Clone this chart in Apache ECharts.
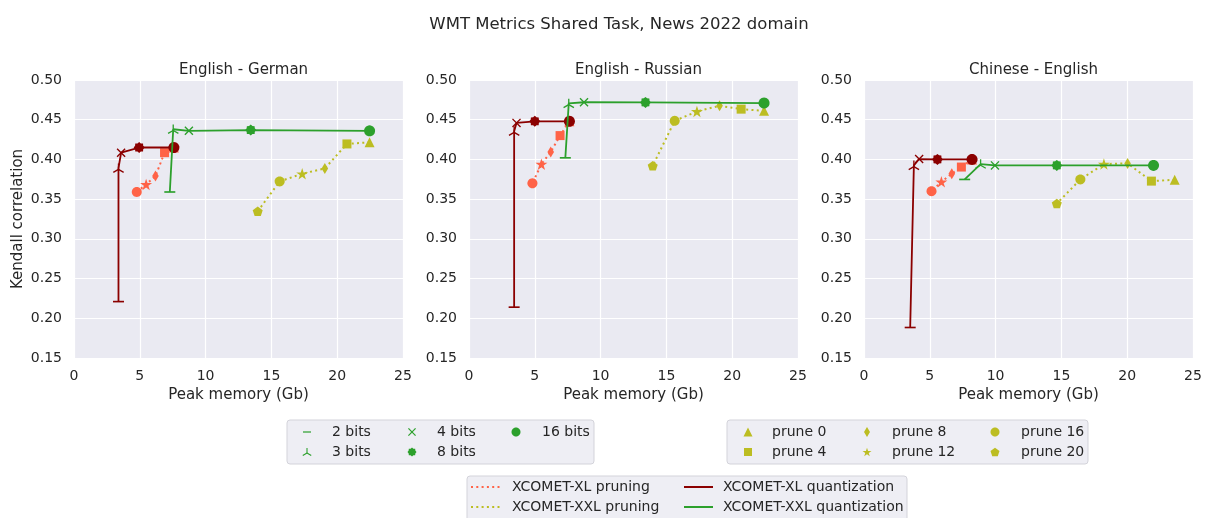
<!DOCTYPE html>
<html><head><meta charset="utf-8">
<script src="https://cdn.jsdelivr.net/npm/echarts@6/dist/echarts.min.js"></script>
<style>html,body{margin:0;padding:0;background:#fff}#c{width:1205px;height:518px}</style>
</head><body><div id="c"></div><script>
// ---------------- DATA ----------------
const mainTitle = 'WMT Metrics Shared Task, News 2022 domain';
const subTitles = ['English - German', 'English - Russian', 'Chinese - English'];
const xAxisName = 'Peak memory (Gb)';
const yAxisName = 'Kendall correlation';
const bitsLabels = ['2 bits', '3 bits', '4 bits', '8 bits', '16 bits'];
const pruneLabels = ['prune 0', 'prune 4', 'prune 8', 'prune 12', 'prune 16', 'prune 20'];
const seriesLabels = ['XCOMET-XL pruning', 'XCOMET-XXL pruning', 'XCOMET-XL quantization', 'XCOMET-XXL quantization'];

// English - German
const deXLQuantMem = [3.38, 3.38, 3.58, 4.95, 7.59];
const deXLQuantCorr = [0.221, 0.389, 0.4085, 0.415, 0.415];
const deXXLQuantMem = [7.28, 7.54, 8.73, 13.43, 22.46];
const deXXLQuantCorr = [0.359, 0.438, 0.436, 0.437, 0.436];
const deXLPruneMem = [7.59, 6.88, 6.19, 5.48, 4.77];
const deXLPruneCorr = [0.415, 0.4085, 0.379, 0.3685, 0.359];
const deXXLPruneMem = [22.46, 20.74, 19.06, 17.34, 15.63, 13.96];
const deXXLPruneCorr = [0.4216, 0.4195, 0.3887, 0.382, 0.3723, 0.3347];

// English - Russian
const ruXLQuantMem = [3.43, 3.43, 3.61, 5.0, 7.63];
const ruXLQuantCorr = [0.214, 0.4355, 0.446, 0.448, 0.448];
const ruXXLQuantMem = [7.32, 7.58, 8.74, 13.41, 22.42];
const ruXXLQuantCorr = [0.402, 0.4705, 0.472, 0.4718, 0.471];
const ruXLPruneMem = [7.63, 6.92, 6.21, 5.5, 4.82];
const ruXLPruneCorr = [0.448, 0.430, 0.4094, 0.394, 0.370];
const ruXXLPruneMem = [22.42, 20.68, 19.04, 17.32, 15.63, 13.96];
const ruXXLPruneCorr = [0.4612, 0.4633, 0.4675, 0.4604, 0.4486, 0.392];

// Chinese - English
const zhXLQuantMem = [3.51, 3.79, 4.19, 5.58, 8.21];
const zhXLQuantCorr = [0.1884, 0.3925, 0.4005, 0.400, 0.400];
const zhXXLQuantMem = [7.65, 8.86, 9.95, 14.65, 22.0];
const zhXXLQuantCorr = [0.3748, 0.3942, 0.3925, 0.3925, 0.3925];
const zhXLPruneMem = [8.21, 7.4, 6.67, 5.88, 5.13];
const zhXLPruneCorr = [0.400, 0.3904, 0.382, 0.3718, 0.360];
const zhXXLPruneMem = [23.61, 21.84, 20.03, 18.23, 16.44, 14.65];
const zhXXLPruneCorr = [0.3744, 0.3727, 0.395, 0.3942, 0.3748, 0.3444];

const xTicks = [0, 5, 10, 15, 20, 25];
const yTicks = [0.15, 0.20, 0.25, 0.30, 0.35, 0.40, 0.45, 0.50];

// ---------------- STYLE ----------------
const C_XL_PRUNE = '#ff6347', C_XXL_PRUNE = '#bcbd22', C_XL_Q = '#8b0000', C_XXL_Q = '#2ca02c';
const TXT = '#262626', FONT = 'DejaVu Sans';
const gridLefts = [74, 469, 864], gridTop = 80, gridW = 329, gridH = 278;

function regPoly(n, r, rot) { const p = []; for (let i = 0; i < n; i++) { const a = rot + 2 * Math.PI * i / n; p.push([r * Math.sin(a), -r * Math.cos(a)]); } return p; }
function starPoly(n, ro, ri) { const p = []; for (let i = 0; i < 2 * n; i++) { const a = Math.PI * i / n; const r = i % 2 ? ri : ro; p.push([r * Math.sin(a), -r * Math.cos(a)]); } return p; }
function arm(x0, y0, x1, y1, hw) { const dx = x1 - x0, dy = y1 - y0, L = Math.hypot(dx, dy); const nx = -dy / L * hw, ny = dx / L * hw; return [[x0 + nx, y0 + ny], [x1 + nx, y1 + ny], [x1 - nx, y1 - ny], [x0 - nx, y0 - ny]]; }
const RAW = {
  circle: [regPoly(28, 1, 0)],
  triangle: [[[0, -1], [1, 1], [-1, 1]]],
  square: [[[-1, -1], [1, -1], [1, 1], [-1, 1]]],
  thinDiamond: [[[0, -1], [0.6, 0], [0, 1], [-0.6, 0]]],
  star: [starPoly(5, 1, 0.382)],
  pentagon: [regPoly(5, 1, 0)],
  hline: [[[-1, -0.15], [1, -0.15], [1, 0.15], [-1, 0.15]]],
  tri: [arm(0, 0.05, 0, -1, 0.11), arm(0, 0, -0.866, 0.5, 0.11), arm(0, 0, 0.866, 0.5, 0.11)],
  cross: [arm(-1, -1, 1, 1, 0.17), arm(-1, 1, 1, -1, 0.17)],
  gear: [starPoly(8, 1, 0.8)]
};
const SHAPES = {}, PATHS = {};
Object.keys(RAW).forEach(k => {
  const all = RAW[k].flat();
  const xs = all.map(p => p[0]), ys = all.map(p => p[1]);
  const x0 = Math.min(...xs), x1 = Math.max(...xs), y0 = Math.min(...ys), y1 = Math.max(...ys);
  const cx = (x0 + x1) / 2, cy = (y0 + y1) / 2, s = 2 / Math.max(x1 - x0, y1 - y0);
  SHAPES[k] = RAW[k].map(poly => poly.map(p => [(p[0] - cx) * s, (p[1] - cy) * s]));
  PATHS[k] = 'path://' + SHAPES[k].map(poly => 'M' + poly.map(p => ((p[0] + 1) * 50).toFixed(2) + ' ' + ((p[1] + 1) * 50).toFixed(2)).join(' L') + ' Z').join(' ');
});
const quantSyms = ['hline', 'tri', 'cross', 'gear', 'circle'];
const quantSizes = [11, 11, 9, 11, 11];
const pruneSyms = ['triangle', 'square', 'thinDiamond', 'star', 'circle', 'pentagon'];
const pruneSizes = [10, 9, 11, 12, 10, 10];

function mkSeries(gi, name, mem, corr, syms, sizes, color, dotted, z) {
  return {
    type: 'line', name, xAxisIndex: gi, yAxisIndex: gi, z, silent: true, animation: false,
    showAllSymbol: true, symbolKeepAspect: true,
    data: mem.map((m, i) => ({ value: [m, corr[i]], symbol: PATHS[syms[i]], symbolSize: sizes[i] })),
    lineStyle: { color, width: dotted ? 2 : 1.8, type: dotted ? [2, 3.3] : 'solid', cap: 'butt' },
    itemStyle: { color, borderWidth: 0 }
  };
}
const panels = [
  [deXLPruneMem, deXLPruneCorr, deXXLPruneMem, deXXLPruneCorr, deXLQuantMem, deXLQuantCorr, deXXLQuantMem, deXXLQuantCorr],
  [ruXLPruneMem, ruXLPruneCorr, ruXXLPruneMem, ruXXLPruneCorr, ruXLQuantMem, ruXLQuantCorr, ruXXLQuantMem, ruXXLQuantCorr],
  [zhXLPruneMem, zhXLPruneCorr, zhXXLPruneMem, zhXXLPruneCorr, zhXLQuantMem, zhXLQuantCorr, zhXXLQuantMem, zhXXLQuantCorr]
];
const series = [];
panels.forEach((p, gi) => {
  series.push(mkSeries(gi, seriesLabels[0], p[0], p[1], pruneSyms, pruneSizes, C_XL_PRUNE, true, 2));
  series.push(mkSeries(gi, seriesLabels[1], p[2], p[3], pruneSyms, pruneSizes, C_XXL_PRUNE, true, 3));
  series.push(mkSeries(gi, seriesLabels[2], p[4], p[5], quantSyms, quantSizes, C_XL_Q, false, 4));
  series.push(mkSeries(gi, seriesLabels[3], p[6], p[7], quantSyms, quantSizes, C_XXL_Q, false, 5));
});

const grids = gridLefts.map(l => ({ left: l, top: gridTop, width: gridW, height: gridH, show: true, backgroundColor: '#eaeaf2', borderWidth: 0 }));
const xAxes = gridLefts.map((l, i) => ({
  type: 'value', gridIndex: i, min: xTicks[0], max: xTicks[xTicks.length - 1], interval: xTicks[1] - xTicks[0],
  axisLine: { show: false }, axisTick: { show: false },
  splitLine: { show: true, lineStyle: { color: '#ffffff', width: 1.2 } },
  axisLabel: { color: TXT, fontSize: 14, fontFamily: FONT, margin: 11 },
  name: xAxisName, nameLocation: 'middle', nameGap: 30,
  nameTextStyle: { color: TXT, fontSize: 15, fontFamily: FONT }
}));
const yAxes = gridLefts.map((l, i) => ({
  type: 'value', gridIndex: i, min: yTicks[0], max: yTicks[yTicks.length - 1], interval: 0.05,
  axisLine: { show: false }, axisTick: { show: false },
  splitLine: { show: true, lineStyle: { color: '#ffffff', width: 1.2 } },
  axisLabel: { color: TXT, fontSize: 14, fontFamily: FONT, margin: 12, formatter: v => v.toFixed(2) },
  name: i === 0 ? yAxisName : '', nameLocation: 'middle', nameGap: 48,
  nameTextStyle: { color: TXT, fontSize: 15, fontFamily: FONT }
}));

const titles = [{ text: mainTitle, left: 614, top: 11, textAlign: 'center', textStyle: { color: TXT, fontSize: 16.5, fontWeight: 'normal', fontFamily: FONT } }]
  .concat(subTitles.map((t, i) => ({ text: t, left: gridLefts[i] + gridW / 2, top: 58, textAlign: 'center', textStyle: { color: TXT, fontSize: 15, fontWeight: 'normal', fontFamily: FONT } })));

// ---------------- LEGENDS (graphic) ----------------
const graphics = [];
function box(x, y, w, h) {
  graphics.push({ type: 'rect', silent: true, shape: { x, y, width: w, height: h, r: 3 }, style: { fill: '#eeeef4', stroke: '#d3d3da', lineWidth: 1 }, z: 10 });
}
function markerG(name, cx, cy, size, color) {
  SHAPES[name].forEach(poly => graphics.push({ type: 'polygon', silent: true, z: 11, shape: { points: poly.map(p => [cx + p[0] * size / 2, cy + p[1] * size / 2]) }, style: { fill: color } }));
}
function textG(t, x, y) {
  graphics.push({ type: 'text', silent: true, z: 11, x, y, style: { text: t, fill: TXT, fontSize: 14, fontFamily: FONT, verticalAlign: 'middle', align: 'left' } });
}
box(287, 420, 307, 44);
const l1MarkX = [307, 307, 412, 412, 516], l1TextX = [332, 332, 437, 437, 542], l1Y = [432, 452, 432, 452, 432];
const l1Size = [8, 9, 8, 9, 9];
bitsLabels.forEach((t, i) => { markerG(quantSyms[i], l1MarkX[i], l1Y[i], l1Size[i], C_XXL_Q); textG(t, l1TextX[i], l1Y[i]); });
box(727, 420, 361, 44);
const l2MarkX = [748, 748, 867, 867, 995, 995], l2TextX = [772, 772, 892, 892, 1021, 1021], l2Y = [432, 452, 432, 452, 432, 452];
const l2Size = [9, 8, 10, 9, 9, 9];
pruneLabels.forEach((t, i) => { markerG(pruneSyms[i], l2MarkX[i], l2Y[i], l2Size[i], C_XXL_PRUNE); textG(t, l2TextX[i], l2Y[i]); });
box(467, 476, 440, 46);
const l3X0 = [471, 471, 684, 684], l3X1 = [501, 501, 713, 713], l3TextX = [512, 512, 723, 723], l3Y = [487, 507, 487, 507];
const l3Colors = [C_XL_PRUNE, C_XXL_PRUNE, C_XL_Q, C_XXL_Q], l3Dotted = [true, true, false, false];
seriesLabels.forEach((t, i) => {
  graphics.push({ type: 'line', silent: true, z: 11, shape: { x1: l3X0[i], y1: l3Y[i], x2: l3X1[i], y2: l3Y[i] }, style: { stroke: l3Colors[i], lineWidth: 2, lineDash: l3Dotted[i] ? [2, 3.3] : null } });
  textG(t, l3TextX[i], l3Y[i]);
});

const chart = echarts.init(document.getElementById('c'), null, { renderer: 'canvas' });
chart.setOption({
  backgroundColor: '#ffffff', animation: false,
  title: titles, grid: grids, xAxis: xAxes, yAxis: yAxes, series, graphic: graphics
});
</script></body></html>
